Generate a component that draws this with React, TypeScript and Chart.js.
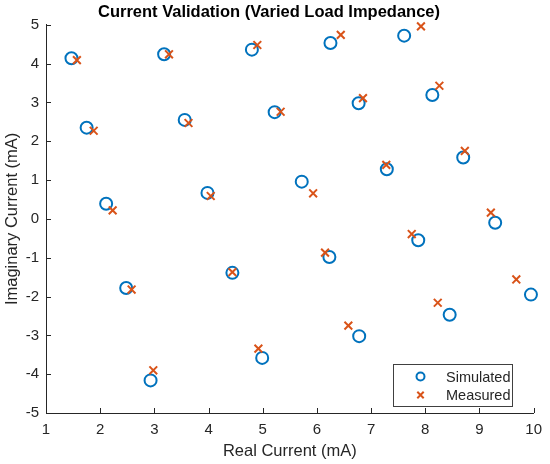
import { useEffect, useRef } from "react";
import { Chart, registerables } from "chart.js";
import type { Plugin, ChartConfiguration } from "chart.js";

Chart.register(...registerables);

// values (mA)
const simulatedReal = [
  1.47, 3.18, 4.8, 6.25, 7.61, 1.75, 3.56, 5.22, 6.77, 8.13, 2.11, 3.98, 5.72,
  7.29, 8.7, 2.48, 4.44, 6.23, 7.87, 9.29, 2.93, 4.99, 6.78, 8.45, 9.95,
];
const simulatedImag = [
  4.14, 4.24, 4.36, 4.53, 4.72, 2.35, 2.55, 2.75, 2.98, 3.19, 0.39, 0.67, 0.96,
  1.28, 1.58, -1.78, -1.39, -0.98, -0.55, -0.1, -4.16, -3.58, -3.02, -2.47,
  -1.95,
];
const measuredReal = [
  1.57, 3.27, 4.9, 6.44, 7.92, 1.88, 3.63, 5.33, 6.85, 8.26, 2.23, 4.04, 5.93,
  7.28, 8.73, 2.58, 4.44, 6.15, 7.75, 9.21, 2.98, 4.92, 6.58, 8.23, 9.68,
];
const measuredImag = [
  4.09, 4.24, 4.48, 4.74, 4.96, 2.27, 2.47, 2.76, 3.11, 3.43, 0.22, 0.59, 0.66,
  1.39, 1.75, -1.82, -1.37, -0.87, -0.39, 0.16, -3.9, -3.34, -2.75, -2.16,
  -1.56,
];
const xRange = [1, 10];
const yRange = [-5, 5];

const FONT = '"Liberation Sans", Arial, Helvetica, sans-serif';
const TEXT = "#262626";
const BLUE = "#0072BD";
const ORANGE = "#D95319";

// MATLAB style: ticks pointing into the plot
const innerTicks: Plugin = {
  id: "innerTicks",
  afterDraw(chart) {
    const { ctx, chartArea } = chart;
    const xs = chart.scales.x;
    const ys = chart.scales.y;
    ctx.save();
    ctx.strokeStyle = TEXT;
    ctx.lineWidth = 1;
    ctx.beginPath();
    xs.ticks.forEach((t) => {
      const px = Math.round(xs.getPixelForValue(t.value)) + 0.5;
      ctx.moveTo(px, chartArea.bottom);
      ctx.lineTo(px, chartArea.bottom - 5);
    });
    ys.ticks.forEach((t) => {
      const py = Math.round(ys.getPixelForValue(t.value)) + 0.5;
      ctx.moveTo(chartArea.left, py);
      ctx.lineTo(chartArea.left + 5, py);
    });
    ctx.stroke();
    ctx.restore();
  },
};

// legend box in the lower right corner of the plot
const boxLegend: Plugin = {
  id: "boxLegend",
  afterDraw(chart) {
    const { ctx, chartArea } = chart;
    const w = 119;
    const h = 42;
    const x0 = Math.round(chartArea.right - 22 - w);
    const y0 = Math.round(chartArea.bottom - 7 - h);
    ctx.save();
    ctx.fillStyle = "#ffffff";
    ctx.fillRect(x0, y0, w, h);
    ctx.strokeStyle = "#404040";
    ctx.lineWidth = 1;
    ctx.strokeRect(x0 + 0.5, y0 + 0.5, w, h);
    ctx.font = `14.5px ${FONT}`;
    ctx.textBaseline = "middle";
    chart.data.datasets.forEach((ds: any, i) => {
      const cx = x0 + 27.5;
      const cy = y0 + 12.5 + i * 18.5;
      ctx.strokeStyle = ds.borderColor;
      ctx.lineWidth = 2;
      ctx.beginPath();
      if (ds.pointStyle === "circle") {
        ctx.arc(cx, cy, 4, 0, Math.PI * 2);
      } else {
        const r = 3.2;
        ctx.moveTo(cx - r, cy - r);
        ctx.lineTo(cx + r, cy + r);
        ctx.moveTo(cx - r, cy + r);
        ctx.lineTo(cx + r, cy - r);
      }
      ctx.stroke();
      ctx.fillStyle = TEXT;
      ctx.fillText(ds.label, x0 + 53, cy + 1);
    });
    ctx.restore();
  },
};

export default function App() {
  const canvasRef = useRef<HTMLCanvasElement | null>(null);

  useEffect(() => {
    document.body.style.margin = "0";
    if (!canvasRef.current) return;

    const config: ChartConfiguration<"scatter"> = {
      type: "scatter",
      data: {
        datasets: [
          {
            label: "Simulated",
            data: simulatedReal.map((x, i) => ({ x, y: simulatedImag[i] })),
            pointStyle: "circle",
            pointRadius: 6,
            pointBorderWidth: 2,
            borderColor: BLUE,
            backgroundColor: "rgba(0,0,0,0)",
            clip: false,
            order: 2,
          },
          {
            label: "Measured",
            data: measuredReal.map((x, i) => ({ x, y: measuredImag[i] })),
            pointStyle: "crossRot",
            pointRadius: 5.5,
            pointBorderWidth: 2,
            borderColor: ORANGE,
            backgroundColor: ORANGE,
            clip: false,
            order: 1,
          },
        ],
      },
      options: {
        animation: false,
        responsive: true,
        maintainAspectRatio: false,
        layout: { padding: { left: 0, right: 12, top: 0, bottom: 0 } },
        plugins: {
          legend: { display: false },
          tooltip: { enabled: false },
          title: {
            display: true,
            text: "Current Validation (Varied Load Impedance)",
            color: "#000000",
            font: { family: FONT, size: 16.5, weight: "bold" },
            padding: { top: 3, bottom: 2 },
          },
        },
        scales: {
          x: {
            type: "linear",
            min: xRange[0],
            max: xRange[1],
            afterFit: (s) => {
              s.height = 51;
            },
            ticks: {
              stepSize: 1,
              color: TEXT,
              padding: 8,
              font: { family: FONT, size: 15 },
            },
            grid: { display: true, drawOnChartArea: false, drawTicks: false },
            border: { display: true, color: TEXT, width: 1 },
            title: {
              display: true,
              text: "Real Current (mA)",
              color: TEXT,
              font: { family: FONT, size: 16.5 },
              padding: { top: 0, bottom: 3 },
            },
          },
          y: {
            type: "linear",
            min: yRange[0],
            max: yRange[1],
            afterFit: (s) => {
              s.width = 46;
            },
            ticks: {
              stepSize: 1,
              color: TEXT,
              padding: 7,
              font: { family: FONT, size: 15 },
            },
            grid: { display: true, drawOnChartArea: false, drawTicks: false },
            border: { display: true, color: TEXT, width: 1 },
            title: {
              display: true,
              text: "Imaginary Current (mA)",
              color: TEXT,
              font: { family: FONT, size: 16.5 },
              padding: { top: 3, bottom: 0 },
            },
          },
        },
      },
      plugins: [innerTicks, boxLegend],
    };

    const chart = new Chart(canvasRef.current, config);
    return () => chart.destroy();
  }, []);

  return (
    <div style={{ width: 550, height: 464, position: "relative", background: "#fff" }}>
      <canvas ref={canvasRef} />
    </div>
  );
}
